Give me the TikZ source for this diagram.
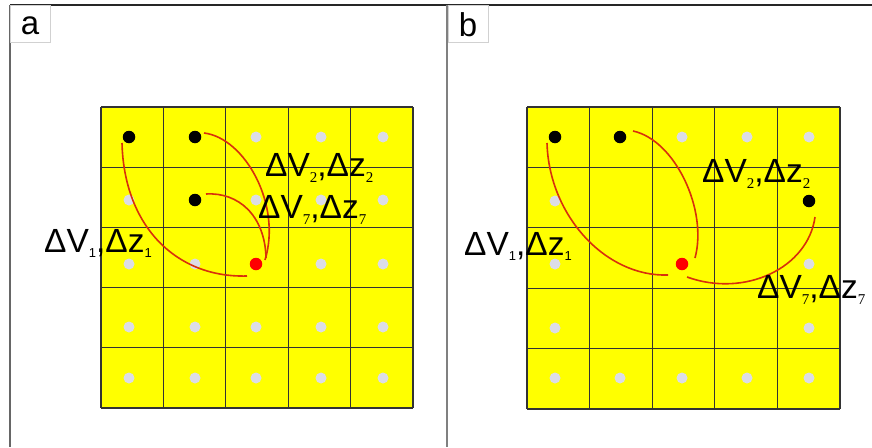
\documentclass[tikz,border=0pt]{standalone}
\usepackage{fontspec}
\setmainfont{Liberation Sans}
\newfontfamily\myserif{Liberation Serif}
\usetikzlibrary{calc}
\definecolor{dotgray}{HTML}{DCDDE6}
\definecolor{curvered}{HTML}{D8300C}
\definecolor{cellyellow}{HTML}{FFFF00}
\newcommand{\mysubser}[1]{\raisebox{-6pt}{\fontsize{15}{15}\myserif #1}}
\newcommand{\mysubsans}[1]{\raisebox{-5pt}{\fontsize{13}{13}\selectfont #1}}
\begin{document}
\begin{tikzpicture}[x=1pt,y=-1pt,
  gridline/.style={draw=black!80, line width=1.2pt},
  graydot/.style={circle, fill=dotgray, minimum size=11pt, inner sep=0pt},
  blackdot/.style={circle, fill=black, minimum size=12.5pt, inner sep=0pt},
  reddot/.style={circle, fill=red, minimum size=12.5pt, inner sep=0pt},
  link/.style={draw=curvered, line width=1.6pt},
  lbl/.style={anchor=base west, inner sep=0pt, font=\fontsize{33.5}{33.5}\selectfont},
  panellbl/.style={anchor=base, inner sep=0pt, font=\fontsize{33}{33}\selectfont},
  lblbox/.style={draw=black!18, line width=0.8pt}
]
\useasboundingbox (0,0) rectangle (872,447);
\fill[white] (0,0) rectangle (872,447);

% frame
\draw[black!85, line width=1.4pt] (10,5) -- (872,5);
\draw[black!60, line width=1.4pt] (10,5) -- (10,447);
\draw[black!50, line width=1.8pt] (447,5) -- (447,447);
\draw[lblbox] (10,5) rectangle (50,42);
\draw[lblbox] (448,5) rectangle (488,42);
\node[panellbl] (pa) at (30,34) {a};
\node[panellbl] (pb) at (468,36) {b};

% ---------- panel a ----------
\fill[cellyellow] (101,107) rectangle (413,408);
\foreach \k in {0,...,5} {
  \draw[gridline] ({101+62.4*\k},107) -- ({101+62.4*\k},408);
  \draw[gridline] (101,{107+60.2*\k}) -- (413,{107+60.2*\k});
}
\foreach \x [count=\i] in {129,195,256,321,383} {
  \foreach \y [count=\j] in {137,200,264,327,378} {
    \node[graydot] (ga-\i-\j) at (\x,\y) {};
  }
}
\node[blackdot] (a1) at (129,137) {};
\node[blackdot] (a2) at (195,137) {};
\node[blackdot] (a3) at (195,200) {};
\node[reddot] (ar) at (256,264) {};

\draw[link] ($(a1)+(-7,6)$) .. controls (124,225) and (175,278) .. ($(ar)+(-9,12)$);
\draw[link] ($(a2)+(9,-4)$) .. controls (245,138) and (282,205) .. ($(ar)+(9,-4)$);
\draw[link] ($(a3)+(11,-6)$) .. controls (238,192) and (265,215) .. ($(ar)+(10,-6)$);

\node[lbl] (ta2) at (265,176) {ΔV\mysubser{2},Δz\mysubser{2}};
\node[lbl] (ta7) at (258,218) {ΔV\mysubser{7},Δz\mysubser{7}};
\node[lbl] (ta1) at (44,252) {ΔV\mysubsans{1},Δz\mysubsans{1}};

% ---------- panel b ----------
\fill[cellyellow] (527,107) rectangle (840,409);
\foreach \k in {0,...,5} {
  \draw[gridline] ({527+62.6*\k},107) -- ({527+62.6*\k},409);
  \draw[gridline] (527,{107+60.4*\k}) -- (840,{107+60.4*\k});
}
\foreach \x [count=\i] in {555,620,682,747,809} {
  \node[graydot] (gb-\i-1) at (\x,137) {};
  \node[graydot] (gb-\i-5) at (\x,378) {};
}
\foreach \y [count=\j] in {201,264,328} {
  \node[graydot] (gb-1-\j) at (555,\y) {};
  \node[graydot] (gb-5-\j) at (809,\y) {};
}
\node[blackdot] (b1) at (555,137) {};
\node[blackdot] (b2) at (620,137) {};
\node[blackdot] (b3) at (809,201) {};
\node[reddot] (br) at (682,264) {};

\draw[link] ($(b1)+(-8,6)$) .. controls (549,215) and (605,277) .. ($(br)+(-14,11)$);
\draw[link] ($(b2)+(13,-6)$) .. controls (675,140) and (708,210) .. ($(br)+(13,-6)$);
\draw[link] ($(b3)+(6,16)$) .. controls (808,268) and (745,298) .. ($(br)+(5,13)$);

\node[lbl] (tb2) at (702,182) {ΔV\mysubser{2},Δz\mysubser{2}};
\node[lbl] (tb7) at (757,298) {ΔV\mysubser{7},Δz\mysubser{7}};
\node[lbl] (tb1) at (464,255) {ΔV\mysubsans{1},Δz\mysubsans{1}};
\end{tikzpicture}
\end{document}
